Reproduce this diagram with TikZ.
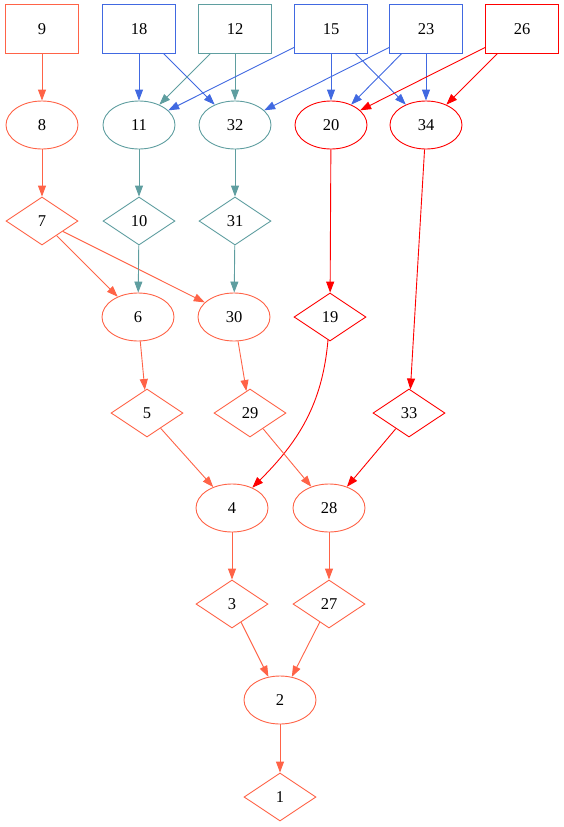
\documentclass[tikz,border=0pt]{standalone}
\usepackage{fontspec}
\setmainfont{Liberation Serif}
\usepackage{xcolor}
\usepackage{tikz}
\usetikzlibrary{positioning,arrows.meta,shapes.geometric}

\definecolor{tomato}{HTML}{FF6347}
\definecolor{royalblue}{HTML}{4169E1}
\definecolor{cadetblue}{HTML}{5F9EA0}

\begin{document}
\begin{tikzpicture}[
  x=1pt, y=-1pt,
  line width=0.9pt,
  boxNode/.style={rectangle, minimum width=72pt, minimum height=48pt,
                  inner sep=0pt, font=\fontsize{16.5}{18}\selectfont},
  ovalNode/.style={ellipse, draw, minimum width=72pt, minimum height=48pt,
                   inner sep=0pt, font=\fontsize{16.5}{18}\selectfont},
  diaNode/.style={diamond, draw, minimum width=72pt, minimum height=48pt,
                  inner sep=0pt, font=\fontsize{16.5}{18}\selectfont},
  flow/.style={-{Triangle[length=11pt,width=8pt]}}
]
  \useasboundingbox (0,0) rectangle (564,827);

  % === Top row (boxes) ===
  \node[boxNode] (n9)  at (42,29)  {9};
  \node[boxNode] (n18) at (139,29) {18};
  \node[boxNode] (n12) at (235,29) {12};
  \node[boxNode] (n15) at (331,29) {15};
  \node[boxNode] (n23) at (426,29) {23};
  \node[boxNode] (n26) at (522,29) {26};
  % frames of the boxes
  \draw[tomato]    (n9.north west)  rectangle (n9.south east);
  \draw[royalblue] (n18.north west) rectangle (n18.south east);
  \draw[cadetblue] (n12.north west) rectangle (n12.south east);
  \draw[royalblue] (n15.north west) rectangle (n15.south east);
  \draw[royalblue] (n23.north west) rectangle (n23.south east);
  \draw[red]       (n26.north west) rectangle (n26.south east);

  % === Second row (ovals) ===
  \node[ovalNode, draw=tomato]    (n8)  at (42,125)  {8};
  \node[ovalNode, draw=cadetblue] (n11) at (139,125) {11};
  \node[ovalNode, draw=cadetblue] (n32) at (235,125) {32};
  \node[ovalNode, draw=red]       (n20) at (331,125) {20};
  \node[ovalNode, draw=red]       (n34) at (426,125) {34};

  % === Third row ===
  \node[diaNode, draw=tomato]    (n7)  at (42,221)  {7};
  \node[diaNode, draw=cadetblue] (n10) at (139,221) {10};
  \node[diaNode, draw=cadetblue] (n31) at (235,221) {31};

  % === Middle rows ===
  \node[ovalNode, draw=tomato] (n6)  at (138,317) {6};
  \node[ovalNode, draw=tomato] (n30) at (234,317) {30};
  \node[diaNode, draw=red]     (n19) at (330,317) {19};
  \node[diaNode, draw=tomato]  (n5)  at (147,413) {5};
  \node[diaNode, draw=tomato]  (n29) at (250,413) {29};
  \node[diaNode, draw=red]     (n33) at (409,413) {33};

  % === Lower rows ===
  \node[ovalNode, draw=tomato] (n4)  at (232,508) {4};
  \node[ovalNode, draw=tomato] (n28) at (329,508) {28};
  \node[diaNode, draw=tomato]  (n3)  at (232,604) {3};
  \node[diaNode, draw=tomato]  (n27) at (329,604) {27};
  \node[ovalNode, draw=tomato] (n2)  at (280,700) {2};
  \node[diaNode, draw=tomato]  (n1)  at (280,797) {1};

  % === Edges from the top row ===
  \draw[flow, tomato] (n9) -- (n8);
  \draw[flow, royalblue] (n18) -- (n11);
  \draw[flow, royalblue] (n18) -- (n32);
  \draw[flow, cadetblue] (n12) -- (n11);
  \draw[flow, cadetblue] (n12) -- (n32);
  \draw[flow, royalblue] (n15) -- (n11);
  \draw[flow, royalblue] (n15) -- (n20);
  \draw[flow, royalblue] (n15) -- (n34);
  \draw[flow, royalblue] (n23) -- (n32);
  \draw[flow, royalblue] (n23) -- (n20);
  \draw[flow, royalblue] (n23) -- (n34);
  \draw[flow, red] (n26) -- (n20);
  \draw[flow, red] (n26) -- (n34);

  % === Chains ===
  \draw[flow, tomato] (n8) -- (n7);
  \draw[flow, tomato] (n7) -- (n6);
  \draw[flow, tomato] (n7) -- (n30);
  \draw[flow, cadetblue] (n11) -- (n10);
  \draw[flow, cadetblue] (n10) -- (n6);
  \draw[flow, cadetblue] (n32) -- (n31);
  \draw[flow, cadetblue] (n31) -- (n30);
  \draw[flow, red] (n20) -- (n19);
  \draw[flow, red] (n19) to[out=-95, in=45] (n4);
  \draw[flow, red] (n34) -- (n33);
  \draw[flow, red] (n33) -- (n28);
  \draw[flow, tomato] (n6) -- (n5);
  \draw[flow, tomato] (n5) -- (n4);
  \draw[flow, tomato] (n30) -- (n29);
  \draw[flow, tomato] (n29) -- (n28);
  \draw[flow, tomato] (n4) -- (n3);
  \draw[flow, tomato] (n28) -- (n27);
  \draw[flow, tomato] (n3) -- (n2);
  \draw[flow, tomato] (n27) -- (n2);
  \draw[flow, tomato] (n2) -- (n1);
\end{tikzpicture}
\end{document}
